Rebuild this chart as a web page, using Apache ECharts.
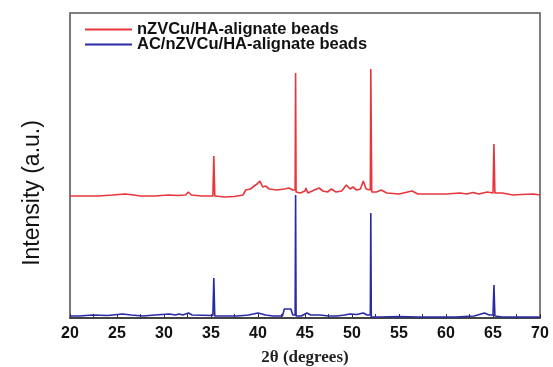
<!DOCTYPE html>
<html><head><meta charset="utf-8">
<script src="https://cdn.jsdelivr.net/npm/echarts@6/dist/echarts.min.js"></script>
<style>html,body{margin:0;padding:0;background:#fff}#c{width:553px;height:367px}</style>
</head><body><div id="c"></div>
<script>
const seriesNames = ['nZVCu/HA-alignate beads', 'AC/nZVCu/HA-alignate beads'];
const xTicks = [20, 25, 30, 35, 40, 45, 50, 55, 60, 65, 70];
const redX = [20,21.5,23,24.5,25.9,26.8,27.5,29,30.5,31.5,32.3,32.6,32.9,34,35.2,35.3,35.4,36.5,37.5,38.4,38.7,39.2,39.6,39.9,40.2,40.5,40.8,41.2,42,42.8,43.3,43.7,43.95,44.0,44.05,44.5,45.0,45.1,45.3,45.5,46.0,46.5,46.9,47.4,47.8,48.3,48.9,49.4,49.8,50.1,50.5,50.9,51.2,51.5,51.95,52.0,52.1,52.6,53.1,53.7,55,56.4,57,58.5,60,61.5,62.2,62.9,63.5,64.4,65.0,65.1,65.2,66,67.1,68,69.3,70];
const redY = [122,122,122,123,124,123,122,122,123,122.5,123,126,123,122,122,162,122,121,121.5,123,128,129,132,134,137,131,132,129,128,129,130,128,128,245,126,125,127,130,125,126,128,130,127,126,129,126,127,133,129,131,128,129,137,129,128,249,126,126,128,125,124,127,124,124,124,125,124,125.5,124,126,125,174,125,125,123,123.5,124,123];
const blueX = [20,21,22.4,24,25.6,26.5,27.8,29,30.6,31.2,31.6,32,32.6,33,35.2,35.3,35.4,36.5,37.8,39,40,40.8,41.6,42.6,42.8,43.5,43.7,43.95,44.0,44.05,44.6,45.2,45.6,46.6,47.5,48.4,49.2,49.8,50.5,51.2,51.6,51.95,52.0,52.05,53,55,57,59,61,63,64.1,64.6,65.0,65.1,65.2,66,68,70];
const blueY = [2,2,3,2.5,4,3,2,3,4,3,4,3,5,3,2.5,40,2,2,2,3,5,3,2,2,9,9,3,3,123,2,2,5,3,3,2,2,3,4,3.5,5,3,3,105,1,1,1.5,1,1,1,2,5,3,3,33,2,1,1,1];

const pairs = (xs, ys) => xs.map((x, i) => [x, ys[i]]);
const chart = echarts.init(document.getElementById('c'));
chart.setOption({
  animation: false,
  backgroundColor: '#fff',
  grid: {left: 70, right: 13, top: 13, bottom: 49, containLabel: false, outerBoundsMode: 'none',
    show: true, borderColor: '#555', borderWidth: 1.5},
  legend: {
    orient: 'vertical', left: 80, top: 16, itemWidth: 47, itemHeight: 2, itemGap: -2, icon: 'rect',
    data: seriesNames,
    textStyle: {fontFamily: 'Liberation Sans, Arial', fontWeight: 'bold', fontSize: 16.5, color: '#111', padding: [0,0,0,0]}
  },
  xAxis: {
    type: 'value', min: 20, max: 70, interval: 5,
    name: '2θ (degrees)', nameLocation: 'middle', nameGap: 31,
    nameTextStyle: {fontFamily: 'Liberation Serif, Times New Roman', fontWeight: 'bold', fontSize: 17, color: '#222'},
    axisLine: {lineStyle: {color: '#333', width: 1.5}},
    axisTick: {inside: true, length: 4, lineStyle: {color: '#333'}},
    minorTick: {show: true, splitNumber: 2, length: 4, lineStyle: {color: '#333'}},
    axisLabel: {margin: 8, fontFamily: 'Liberation Sans, Arial', fontWeight: 'bold', fontSize: 16, color: '#111',
      formatter: v => xTicks.includes(v) ? String(v) : ''},
    splitLine: {show: false}
  },
  yAxis: {
    type: 'value', min: 0, max: 305,
    axisLine: {show: true, lineStyle: {color: '#777', width: 1.5}},
    axisTick: {show: false}, axisLabel: {show: false}, splitLine: {show: false}
  },
  graphic: [{
    type: 'text', x: 33, y: 193, rotation: Math.PI / 2,
    style: {text: 'Intensity (a.u.)', fontFamily: 'Liberation Sans, Arial', fontSize: 23, fill: '#111', align: 'center', verticalAlign: 'middle'}
  }],
  series: [
    {name: seriesNames[0], type: 'line', data: pairs(redX, redY), showSymbol: false, symbol: 'none',
      lineStyle: {color: '#e8373c', width: 1.6}, itemStyle: {color: '#e8373c'}},
    {name: seriesNames[1], type: 'line', data: pairs(blueX, blueY), showSymbol: false, symbol: 'none',
      lineStyle: {color: '#2a2aa6', width: 1.6}, itemStyle: {color: '#2a2aa6'}}
  ]
});
</script></body></html>
